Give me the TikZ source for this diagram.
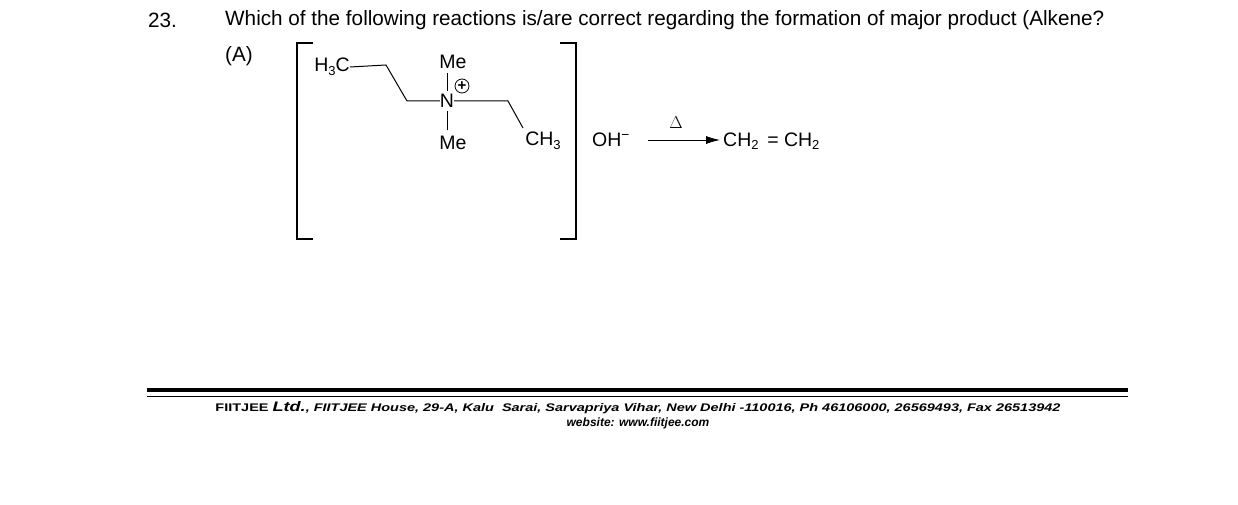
\documentclass[tikz,border=0pt]{standalone}
\usepackage{fontspec}
\setmainfont{Liberation Sans}
\usetikzlibrary{arrows.meta}
\newcommand{\lowsub}[1]{\raisebox{-0.35ex}{\fontsize{13}{13}\selectfont #1}}
\begin{document}
\begin{tikzpicture}[x=1pt,y=-1pt,
  txt/.style={inner sep=0pt,font=\fontsize{20.7}{22}\selectfont},
  ch/.style={inner sep=0pt,font=\fontsize{19.5}{21}\selectfont},
  bond/.style={line width=1pt}]
\useasboundingbox (0,0) rectangle (1238,505);
\node[txt,anchor=west] (num) at (148,20) {23.};
\node[txt,anchor=west] (q) at (225,20) {Which of the following reactions is/are correct regarding the formation of major product (Alkene?};
\node[txt,anchor=west] (A) at (225,56) {(A)};
% brackets
\draw[line width=1.3pt] (313,43) -- (297,43) -- (297,239) -- (313,239);
\draw[line width=1.3pt] (560,43) -- (576,43) -- (576,239) -- (560,239);
\node[ch] (h3c) at (332,67) {H\lowsub{3}C};
\node[ch] (N) at (447,101) {N};
\node[ch] (me1) at (453,62) {Me};
\node[ch] (me2) at (453,143) {Me};
\node[circle,draw,inner sep=0pt,minimum size=14pt,line width=0.8pt,font=\fontsize{15}{15}\selectfont\bfseries] (plus) at (462,86) {+};
\node[ch] (ch3) at (543,141) {CH\lowsub{3}};
\coordinate (c1) at (386,65);
\coordinate (c2) at (407,101);
\coordinate (c3) at (508,101);
\coordinate (c4) at (523,128);
\draw[bond] (h3c.east) -- (c1) -- (c2) -- (N.west);
\draw[bond] (N.east) -- (c3) -- (c4);
\draw[bond] (447,73) -- (447,91);
\draw[bond] (447,111) -- (447,130);
\node[ch] (oh) at (611,140) {OH\textsuperscript{−}};
\coordinate (a1) at (648,140);
\coordinate (a2) at (720,140);
\draw[line width=0.8pt,-{Latex[length=14pt,width=8pt]}] (a1) -- (a2);
\node[inner sep=0pt,font=\fontsize{17}{17}\selectfont\rmfamily] (delta) at (676,123) {$\Delta$};
\node[ch,anchor=west] (prod) at (723,141) {CH\lowsub{2} \,= CH\lowsub{2}};
% footer
\draw[line width=4pt] (147,390) -- (1128,390);
\draw[line width=1pt] (147,396) -- (1128,396);
\node[inner sep=0pt] (f1) at (638,408) {\resizebox{845pt}{10pt}{\bfseries\itshape\fontsize{12}{13}\selectfont {\upshape FIITJEE} {\fontsize{15}{15}\selectfont Ltd.}, FIITJEE House, 29-A, Kalu\ \ Sarai, Sarvapriya Vihar, New Delhi -110016, Ph 46106000, 26569493, Fax 26513942}};
\node[inner sep=0pt,font=\fontsize{12}{13}\selectfont\bfseries\itshape] (f2) at (638,423) {website: www.fiitjee.com};
\end{tikzpicture}
\end{document}
